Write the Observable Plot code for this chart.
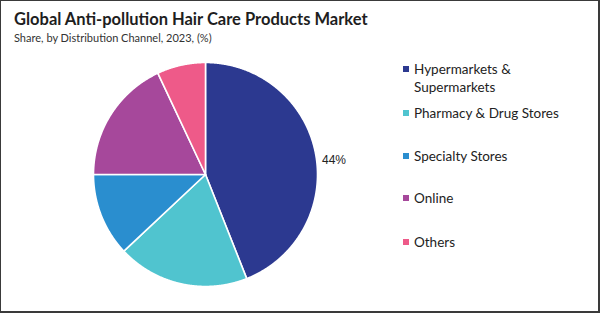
<!DOCTYPE html>
<html>
<head>
<meta charset="utf-8">
<script src="https://cdn.jsdelivr.net/npm/d3@7"></script>
<script src="https://cdn.jsdelivr.net/npm/@observablehq/plot@0.6"></script>
<style>
html, body { margin: 0; padding: 0; background: #fff; }
#chart {
  position: relative; width: 600px; height: 313px; box-sizing: border-box;
  border-style: solid; border-color: #3a3a3a; border-width: 1px 2px 2px 1px;
  overflow: hidden; font-family: Lato, "Open Sans", sans-serif; background: #fff;
}
#title { position: absolute; left: 13px; top: 10px; font-weight: bold; font-size: 16.5px; line-height: 16px; color: #1e1e1e; white-space: nowrap; }
#subtitle { position: absolute; left: 13px; top: 31px; font-size: 11px; line-height: 11px; color: #333; white-space: nowrap; }
#plot { position: absolute; left: 0; top: 0; }
.item { position: absolute; left: 413px; font-size: 13.5px; line-height: 18px; color: #222; white-space: nowrap; }
.sw { position: absolute; left: -11px; top: 6px; width: 6px; height: 6px; }
</style>
</head>
<body>
<div id="chart">
  <div id="plot"></div>
  <div id="title"></div>
  <div id="subtitle"></div>
  <div id="legend"></div>
</div>
<script>
// ---- data ----
const chartTitle = "Global Anti-pollution Hair Care Products Market";
const chartSubtitle = "Share, by Distribution Channel, 2023, (%)";
const categories = ["Hypermarkets & Supermarkets", "Pharmacy & Drug Stores", "Specialty Stores", "Online", "Others"];
const legendLines = [["Hypermarkets &", "Supermarkets"], ["Pharmacy & Drug Stores"], ["Specialty Stores"], ["Online"], ["Others"]];
const shares = [44, 19, 12, 18, 7];
const colors = ["#2c3990", "#50c4cf", "#2a8ecf", "#a6489b", "#ee5a89"];
const labeled = ["Hypermarkets & Supermarkets"];

// ---- layout ----
const W = 597, H = 310;
const cx = 204, cy = 173, R = 112;
const legendTops = [59, 103, 146, 188, 232];

document.getElementById("title").textContent = chartTitle;
document.getElementById("subtitle").textContent = chartSubtitle;

const rows = categories.map((c, i) => ({cat: c, value: shares[i]}));
const arcs = d3.pie().sort(null).value(d => d.value).startAngle(0).endAngle(2 * Math.PI)(rows);

// polygon outline of each slice (centre -> arc -> centre)
const pts = [];
for (const a of arcs) {
  pts.push({cat: a.data.cat, x: 0, y: 0});
  const n = Math.max(2, Math.ceil((a.endAngle - a.startAngle) / 0.005));
  for (let k = 0; k <= n; k++) {
    const t = a.startAngle + (a.endAngle - a.startAngle) * k / n;
    pts.push({cat: a.data.cat, x: Math.sin(t), y: Math.cos(t)});
  }
  pts.push({cat: a.data.cat, x: 0, y: 0});
}
const labels = arcs.filter(a => labeled.includes(a.data.cat)).map(a => {
  const m = (a.startAngle + a.endAngle) / 2;
  return {x: 1.05 * Math.sin(m), y: 1.05 * Math.cos(m), text: a.data.value + "%"};
});

const plot = Plot.plot({
  width: W, height: H,
  margin: 0,
  x: {domain: [-1, 1], range: [cx - R, cx + R], axis: null},
  y: {domain: [-1, 1], range: [cy + R, cy - R], axis: null},
  color: {domain: categories, range: colors},
  style: {background: "transparent", overflow: "visible"},
  marks: [
    Plot.line(pts, {x: "x", y: "y", z: "cat", fill: "cat", stroke: "white", strokeWidth: 1.6, strokeLinejoin: "round", curve: "linear"}),
    Plot.text(labels, {x: "x", y: "y", text: "text", textAnchor: "start", dy: 8, dx: 1, fontSize: 12, fill: "#222", fontFamily: "Liberation Sans, Arial, sans-serif"})
  ]
});
document.getElementById("plot").appendChild(plot);

const legend = document.getElementById("legend");
categories.forEach((c, i) => {
  const div = document.createElement("div");
  div.className = "item";
  div.style.top = legendTops[i] + "px";
  const sw = document.createElement("span");
  sw.className = "sw";
  sw.style.background = colors[i];
  div.appendChild(sw);
  legendLines[i].forEach((l, j) => {
    if (j) div.appendChild(document.createElement("br"));
    div.appendChild(document.createTextNode(l));
  });
  legend.appendChild(div);
});
</script>
</body>
</html>
